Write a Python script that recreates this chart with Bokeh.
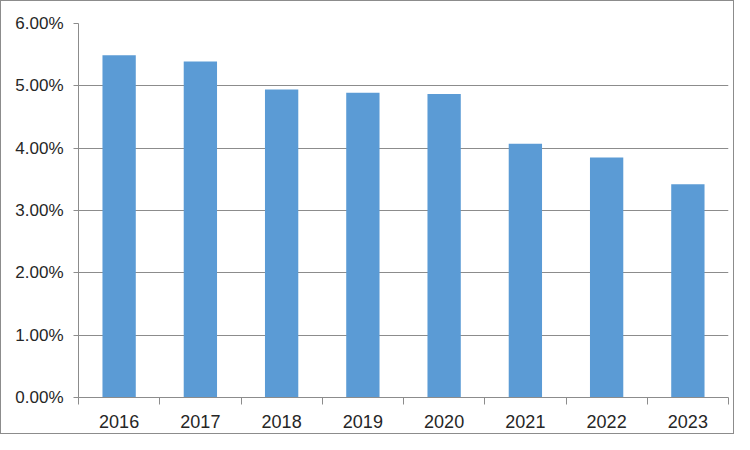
from bokeh.plotting import figure
from bokeh.models import ColumnDataSource, FixedTicker, NumeralTickFormatter, Range1d
from bokeh.embed import file_html
from bokeh.resources import INLINE

years = ["2016", "2017", "2018", "2019", "2020", "2021", "2022", "2023"]
rates = [0.0549, 0.0539, 0.0494, 0.0489, 0.0487, 0.0407, 0.0385, 0.0342]

xpos = [i + 0.5 for i in range(len(years))]
source = ColumnDataSource(data=dict(x=xpos, top=rates, year=years))

p = figure(width=734, height=434, output_backend="svg", toolbar_location=None,
           x_range=Range1d(0, len(years)), y_range=Range1d(0, 0.06),
           min_border_left=77, min_border_right=7, min_border_top=22, min_border_bottom=38)
p.styles = {"border": "1px solid #8c8c8c", "box-sizing": "border-box"}
p.outline_line_color = None
p.background_fill_color = "white"
p.border_fill_color = "white"

p.vbar(x="x", top="top", width=0.41, bottom=0, source=source,
       fill_color="#5B9BD5", line_color=None)

grey = "#8c8c8c"
font = "Liberation Sans"
text_col = "#262626"

# x axis
p.xaxis.ticker = FixedTicker(ticks=xpos, minor_ticks=list(range(len(years) + 1)))
p.xaxis.major_label_overrides = {x: y for x, y in zip(xpos, years)}
p.xaxis.major_tick_out = 0
p.xaxis.major_tick_in = 0
p.xaxis.minor_tick_out = 7
p.xaxis.minor_tick_in = 0
p.xaxis.minor_tick_line_color = grey
p.xaxis.axis_line_color = grey
p.xaxis.major_label_standoff = 10
p.xaxis.major_label_text_font = font
p.xaxis.major_label_text_font_size = "18px"
p.xaxis.major_label_text_color = text_col
p.xgrid.grid_line_color = None

# y axis
p.yaxis.ticker = FixedTicker(ticks=[0, 0.01, 0.02, 0.03, 0.04, 0.05, 0.06])
p.yaxis.formatter = NumeralTickFormatter(format="0.00%")
p.yaxis.major_tick_out = 5
p.yaxis.major_tick_in = 0
p.yaxis.major_tick_line_color = grey
p.yaxis.minor_tick_line_color = None
p.yaxis.axis_line_color = grey
p.yaxis.major_label_standoff = 10
p.yaxis.major_label_text_font = font
p.yaxis.major_label_text_font_size = "17px"
p.yaxis.major_label_text_color = text_col
p.ygrid.grid_line_color = grey
p.ygrid.grid_line_width = 1

open("out.html", "w").write(file_html(p, INLINE))
